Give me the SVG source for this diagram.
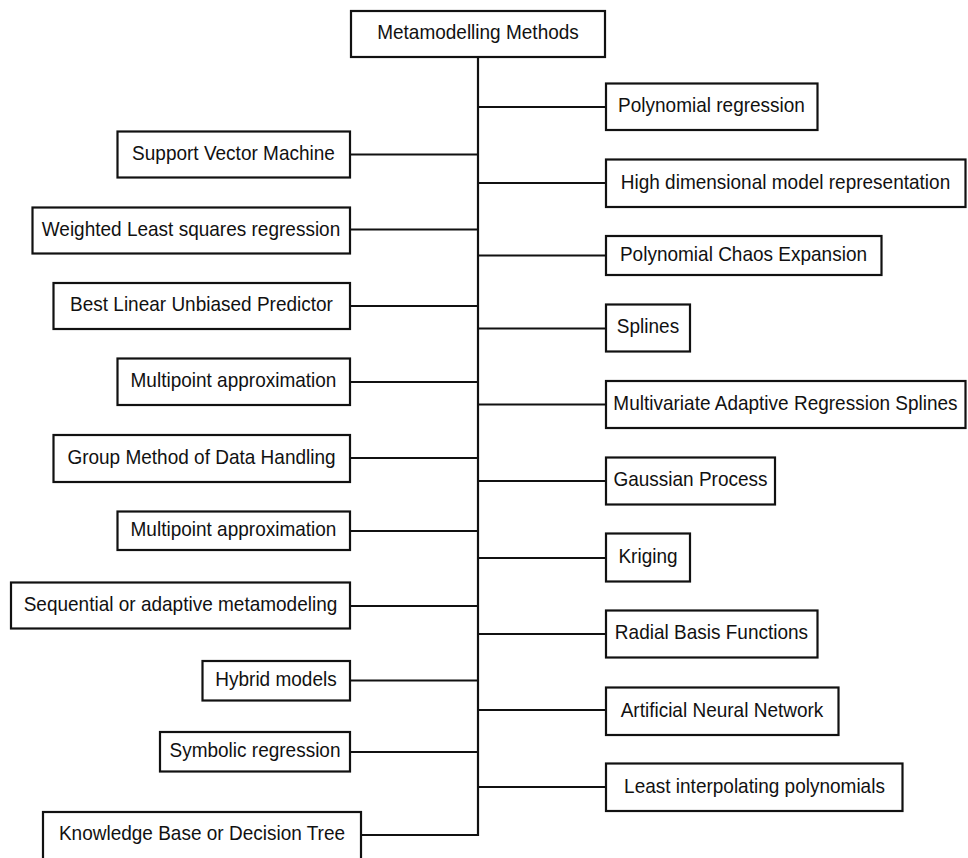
<svg xmlns="http://www.w3.org/2000/svg" width="968" height="858" viewBox="0 0 968 858">
  <style>
    .box { fill: #ffffff; stroke: #111111; stroke-width: 2.2; }
    .lbl { font-family: "Liberation Sans", Arial, sans-serif; font-size: 19px; fill: #111111; text-anchor: middle; }
    .wire { fill: none; stroke: #111111; stroke-width: 2.2; }
  </style>
  <rect x="0" y="0" width="968" height="858" fill="#ffffff"/>

  <!-- connectors: central trunk and horizontal branches -->
  <g id="connectors" class="wire">
    <path d="M478,58 V836"/>
    <!-- right branches -->
    <path d="M478,107 H606"/>
    <path d="M478,183 H606"/>
    <path d="M478,255.5 H606"/>
    <path d="M478,328.5 H606"/>
    <path d="M478,404.5 H606"/>
    <path d="M478,481 H606"/>
    <path d="M478,558 H606"/>
    <path d="M478,634 H606"/>
    <path d="M478,710 H606"/>
    <path d="M478,787 H606"/>
    <!-- left branches -->
    <path d="M350,154.5 H478"/>
    <path d="M350,229.5 H478"/>
    <path d="M350,306 H478"/>
    <path d="M350,382 H478"/>
    <path d="M350,458 H478"/>
    <path d="M350,531 H478"/>
    <path d="M350,606 H478"/>
    <path d="M350,680.5 H478"/>
    <path d="M350,752 H478"/>
    <path d="M361,835 H479"/>
  </g>

  <!-- labels are stretched 10% vertically about their baseline -->
  <!-- root -->
  <g id="root">
    <rect class="box" x="351" y="11" width="254" height="46"/>
    <text class="lbl" x="478" y="39.5" transform="matrix(1 0 0 1.1 0 -3.95)">Metamodelling Methods</text>
  </g>

  <!-- right-hand methods -->
  <g id="polynomial-regression">
    <rect class="box" x="606" y="83.5" width="211.5" height="46.5"/>
    <text class="lbl" x="711.5" y="112.25" transform="matrix(1 0 0 1.1 0 -11.225)">Polynomial regression</text>
  </g>
  <g id="hdmr">
    <rect class="box" x="606" y="159.5" width="359.5" height="47.5"/>
    <text class="lbl" x="785.5" y="188.75" transform="matrix(1 0 0 1.1 0 -18.875)">High dimensional model representation</text>
  </g>
  <g id="pce">
    <rect class="box" x="606" y="236" width="275.5" height="39"/>
    <text class="lbl" x="743.5" y="261" transform="matrix(1 0 0 1.1 0 -26.1)">Polynomial Chaos Expansion</text>
  </g>
  <g id="splines">
    <rect class="box" x="606" y="304.5" width="84" height="47"/>
    <text class="lbl" x="648" y="333.5" transform="matrix(1 0 0 1.1 0 -33.35)">Splines</text>
  </g>
  <g id="mars">
    <rect class="box" x="606" y="381" width="359.5" height="47"/>
    <text class="lbl" x="785.5" y="410" transform="matrix(1 0 0 1.1 0 -41)">Multivariate Adaptive Regression Splines</text>
  </g>
  <g id="gaussian-process">
    <rect class="box" x="606" y="457.5" width="169" height="47"/>
    <text class="lbl" x="690.5" y="486.5" transform="matrix(1 0 0 1.1 0 -48.65)">Gaussian Process</text>
  </g>
  <g id="kriging">
    <rect class="box" x="606" y="533.5" width="84" height="48"/>
    <text class="lbl" x="648" y="563" transform="matrix(1 0 0 1.1 0 -56.3)">Kriging</text>
  </g>
  <g id="rbf">
    <rect class="box" x="606" y="610.5" width="211.5" height="47"/>
    <text class="lbl" x="711.5" y="639.5" transform="matrix(1 0 0 1.1 0 -63.95)">Radial Basis Functions</text>
  </g>
  <g id="ann">
    <rect class="box" x="606" y="687.5" width="232.5" height="47.5"/>
    <text class="lbl" x="722" y="716.75" transform="matrix(1 0 0 1.1 0 -71.675)">Artificial Neural Network</text>
  </g>
  <g id="lip">
    <rect class="box" x="606" y="763.5" width="296.5" height="47.5"/>
    <text class="lbl" x="754.5" y="792.75" transform="matrix(1 0 0 1.1 0 -79.275)">Least interpolating polynomials</text>
  </g>

  <!-- left-hand methods -->
  <g id="svm">
    <rect class="box" x="117.5" y="131.5" width="232.5" height="46"/>
    <text class="lbl" x="233.5" y="160" transform="matrix(1 0 0 1.1 0 -16)">Support Vector Machine</text>
  </g>
  <g id="wls">
    <rect class="box" x="32.5" y="207.5" width="317.5" height="46"/>
    <text class="lbl" x="191" y="236" transform="matrix(1 0 0 1.1 0 -23.6)">Weighted Least squares regression</text>
  </g>
  <g id="blup">
    <rect class="box" x="53.5" y="283" width="296.5" height="46"/>
    <text class="lbl" x="201.5" y="311.5" transform="matrix(1 0 0 1.1 0 -31.15)">Best Linear Unbiased Predictor</text>
  </g>
  <g id="multipoint-1">
    <rect class="box" x="117.5" y="358.5" width="232.5" height="46.5"/>
    <text class="lbl" x="233.5" y="387.25" transform="matrix(1 0 0 1.1 0 -38.725)">Multipoint approximation</text>
  </g>
  <g id="gmdh">
    <rect class="box" x="53.5" y="435" width="296.5" height="47"/>
    <text class="lbl" x="201.5" y="464" transform="matrix(1 0 0 1.1 0 -46.4)">Group Method of Data Handling</text>
  </g>
  <g id="multipoint-2">
    <rect class="box" x="117.5" y="511.5" width="232.5" height="38.5"/>
    <text class="lbl" x="233.5" y="536.25" transform="matrix(1 0 0 1.1 0 -53.625)">Multipoint approximation</text>
  </g>
  <g id="sequential">
    <rect class="box" x="11" y="582.5" width="339" height="46"/>
    <text class="lbl" x="180.5" y="611" transform="matrix(1 0 0 1.1 0 -61.1)">Sequential or adaptive metamodeling</text>
  </g>
  <g id="hybrid">
    <rect class="box" x="202.5" y="661" width="147.5" height="39.5"/>
    <text class="lbl" x="276" y="686.25" transform="matrix(1 0 0 1.1 0 -68.625)">Hybrid models</text>
  </g>
  <g id="symbolic">
    <rect class="box" x="160" y="732" width="190" height="39.5"/>
    <text class="lbl" x="255" y="757.25" transform="matrix(1 0 0 1.1 0 -75.725)">Symbolic regression</text>
  </g>
  <g id="knowledge-base">
    <rect class="box" x="43" y="812" width="318" height="48"/>
    <text class="lbl" x="202" y="840" transform="matrix(1 0 0 1.1 0 -84)">Knowledge Base or Decision Tree</text>
  </g>
</svg>
